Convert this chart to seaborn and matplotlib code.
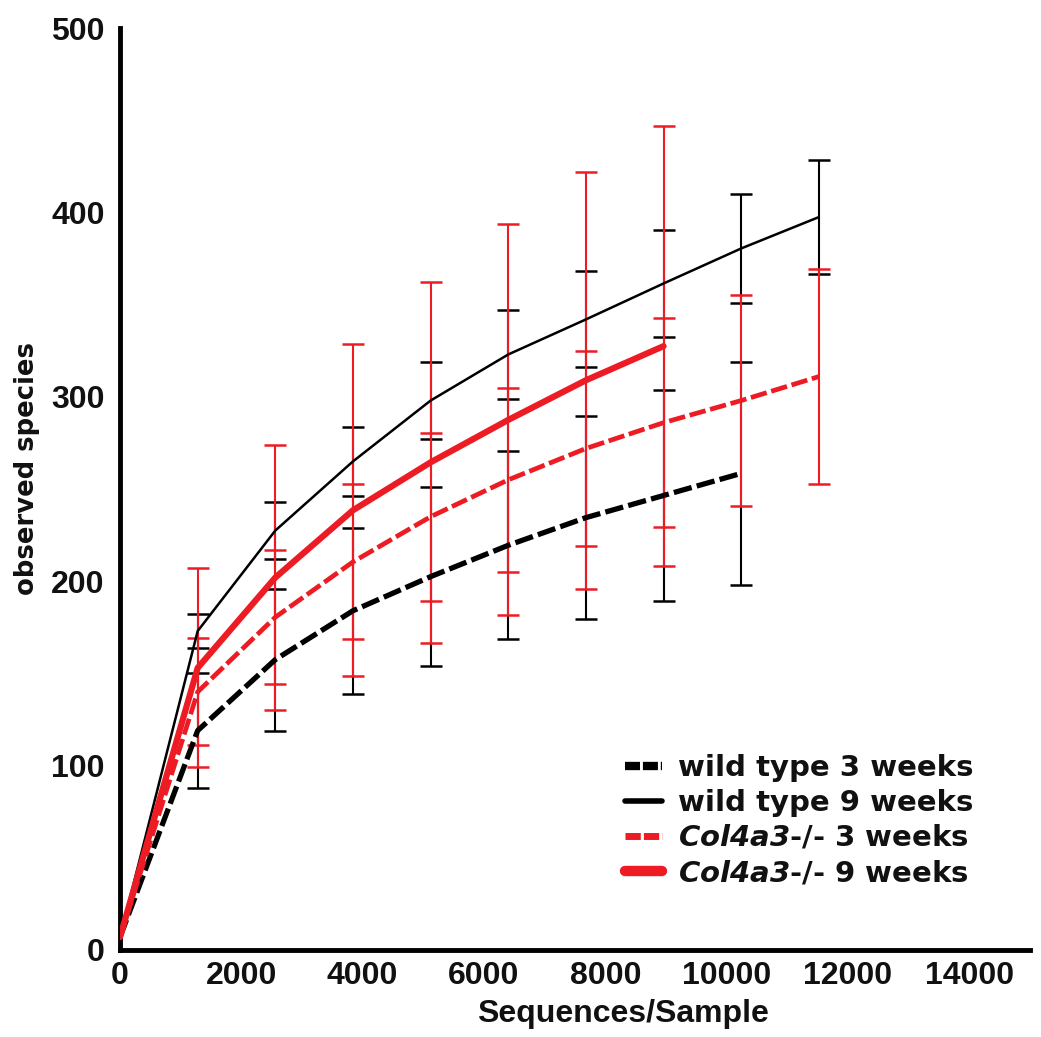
import matplotlib
matplotlib.use('Agg')
import matplotlib.pyplot as plt
from matplotlib.lines import Line2D
import seaborn as sns
import pandas as pd


# rarefaction depths (sequences per sample)
seqs = [0, 1280, 2560, 3840, 5120, 6400, 7680, 8960, 10240, 11520]

# mean observed species and SD per group
wt3_mean = [7, 119, 157.5, 184, 202.5, 219.5, 234.5, 246.5, 258.5]
wt3_sd = [0, 31, 38.5, 45, 48.5, 51, 55, 57, 60.5]
wt9_mean = [7, 173, 227.5, 265, 298, 323, 342, 361.5, 380.5, 397.5]
wt9_sd = [0, 9, 15.5, 18.5, 21, 24, 26, 29, 29.5, 31]
col3_mean = [7, 140, 180.5, 210.5, 235, 255, 272, 286, 298, 311]
col3_sd = [0, 29, 36.5, 42, 45.5, 50, 53, 56.5, 57, 58.5]
col9_mean = [7, 153, 202, 238.5, 264.5, 287.5, 309, 327.5]
col9_sd = [0, 54, 72, 90, 98, 106, 113, 119.5]

group_names = ['wt3', 'wt9', 'col3', 'col9']
legend_labels = ['wild type 3 weeks', 'wild type 9 weeks',
                 r'$\mathbfit{Col4a3}$-/- 3 weeks', r'$\mathbfit{Col4a3}$-/- 9 weeks']
x_ticks = [0, 2000, 4000, 6000, 8000, 10000, 12000, 14000]
y_ticks = [0, 100, 200, 300, 400, 500]

RED = '#ed1c24'
palette = {'wt3': 'black', 'wt9': 'black', 'col3': RED, 'col9': RED}
dashes = {'wt3': (3.5, 1), 'wt9': '', 'col3': (3.5, 1), 'col9': ''}
sizes = {'wt3': 3.8, 'wt9': 1.8, 'col3': 3.4, 'col9': 4.5}

means = {'wt3': wt3_mean, 'wt9': wt9_mean, 'col3': col3_mean, 'col9': col9_mean}
sds = {'wt3': wt3_sd, 'wt9': wt9_sd, 'col3': col3_sd, 'col9': col9_sd}

# long table for seaborn
rows = []
for g in group_names:
    for x, y in zip(seqs, means[g]):
        rows.append({'seqs': x, 'species': y, 'group': g})
df = pd.DataFrame(rows)

sns.set_theme(style='white')
plt.rcParams['font.family'] = ['Liberation Sans', 'DejaVu Sans']
plt.rcParams['mathtext.fontset'] = 'custom'
plt.rcParams['mathtext.bfit'] = 'DejaVu Sans:italic:bold'
plt.rcParams['mathtext.rm'] = 'DejaVu Sans:bold'

fig = plt.figure(figsize=(10.41, 10.37), dpi=100)
ax = fig.add_axes([0.1153, 0.0839, 0.8741, 0.889])

# error bars first (black then red), lines on top
for g in ['wt3', 'wt9', 'col3', 'col9']:
    n = len(means[g])
    ax.errorbar(seqs[1:n], means[g][1:], yerr=sds[g][1:], fmt='none',
                ecolor=palette[g], elinewidth=1.5, capsize=8, capthick=1.8,
                zorder=2 if palette[g] == 'black' else 3)

sns.lineplot(data=df, x='seqs', y='species', hue='group', style='group', size='group',
             hue_order=group_names, style_order=group_names, size_order=group_names,
             palette=palette, dashes=dashes, sizes=sizes, sort=False,
             estimator=None, legend=False, ax=ax, zorder=4)

ax.set_xlim(0, 15000)
ax.set_ylim(0, 500)
ax.set_xticks(x_ticks)
ax.set_yticks(y_ticks)

for side in ['top', 'right']:
    ax.spines[side].set_visible(False)
for side in ['left', 'bottom']:
    ax.spines[side].set_linewidth(3.5)
    ax.spines[side].set_color('black')

ax.tick_params(axis='both', direction='out', length=7, width=3.5, color='black',
               labelsize=23, labelcolor='#111111')
ax.tick_params(axis='x', pad=1)
ax.tick_params(axis='y', pad=4)
for lab in ax.get_xticklabels() + ax.get_yticklabels():
    lab.set_fontweight('bold')

ax.set_xlabel('Sequences/Sample', fontsize=23, fontweight='bold', color='#111111')
ax.xaxis.set_label_coords((623 - 120) / 910, -0.053)
ax.set_ylabel('observed species', fontsize=18.6, fontweight='bold', color='#111111',
              family='DejaVu Sans')
ax.yaxis.set_label_coords(-0.088, 0.522)

# legend
handles = [Line2D([], [], color='black', lw=6, ls=(0, (1.8, 0.35))),
           Line2D([], [], color='black', lw=4),
           Line2D([], [], color=RED, lw=5, ls=(0, (2.2, 0.45))),
           Line2D([], [], color=RED, lw=7.5)]
leg = ax.legend(handles, legend_labels, loc='upper left',
                bbox_to_anchor=(625 / 1041, 1 - 754 / 1037), bbox_transform=fig.transFigure,
                frameon=False, prop={'family': 'DejaVu Sans', 'weight': 'bold', 'size': 21},
                handlelength=1.27, handletextpad=0.55, labelspacing=0.24,
                borderpad=0, borderaxespad=0)
for t in leg.get_texts():
    t.set_color('#111111')

fig.savefig('out.png', dpi=100, facecolor='white')
